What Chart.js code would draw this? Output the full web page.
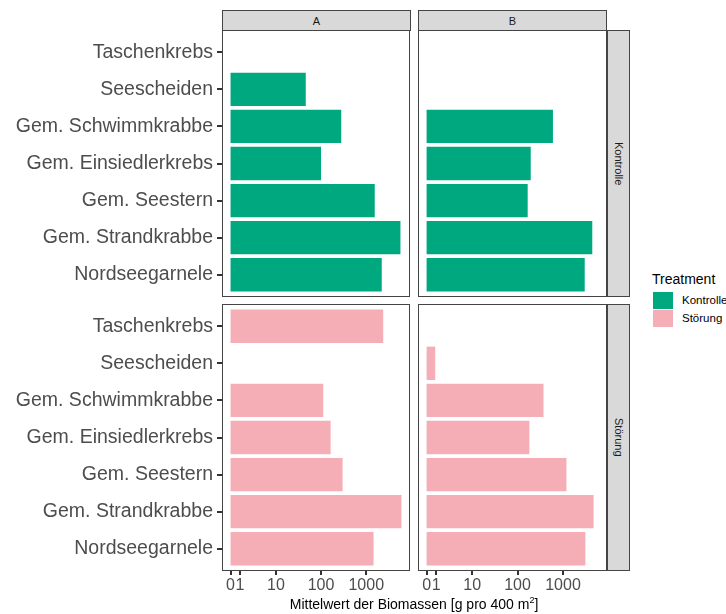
<!DOCTYPE html>
<html>
<head>
<meta charset="utf-8">
<script src="https://cdn.jsdelivr.net/npm/chart.js@4.4.1/dist/chart.umd.min.js"></script>
<style>
  body { margin:0; background:#fff; width:726px; height:614px; position:relative; overflow:hidden;
         font-family:'Liberation Sans', Arial, sans-serif; }
  .panel { position:absolute; }
  .strip { position:absolute; background:#d9d9d9; border:1px solid #444; box-sizing:border-box;
           color:#1a1a1a; font-size:11px; display:flex; align-items:center; justify-content:center; }
  .vs span { writing-mode:vertical-rl; }
  .abs { position:absolute; white-space:nowrap; }
</style>
</head>
<body>
<div class="strip" style="left:222px;top:10px;width:189px;height:21px;">A</div>
<div class="strip" style="left:418px;top:10px;width:189px;height:21px;">B</div>
<div class="strip vs" style="left:607px;top:30px;width:23px;height:267px;"><span>Kontrolle</span></div>
<div class="strip vs" style="left:607px;top:304px;width:23px;height:267px;"><span>Störung</span></div>

<div class="panel" style="left:0;top:30px;width:410px;height:267px;"><canvas id="cKA"></canvas></div>
<div class="panel" style="left:418px;top:30px;width:189px;height:267px;"><canvas id="cKB"></canvas></div>
<div class="panel" style="left:0;top:304px;width:410px;height:299px;"><canvas id="cSA"></canvas></div>
<div class="panel" style="left:418px;top:304px;width:189px;height:299px;"><canvas id="cSB"></canvas></div>

<div class="abs" style="left:652px;top:271px;font-size:14px;line-height:16px;color:#000;">Treatment</div>
<div class="abs" style="left:653px;top:292px;width:20px;height:17px;background:#00A880;"></div>
<div class="abs" style="left:653px;top:310px;width:20px;height:17px;background:#F6AEB6;"></div>
<div class="abs" style="left:682px;top:293px;font-size:11.5px;line-height:14px;color:#000;">Kontrolle</div>
<div class="abs" style="left:682px;top:311px;font-size:11.5px;line-height:14px;color:#000;">Störung</div>

<div class="abs" style="left:164px;width:500px;top:596px;font-size:14px;line-height:16px;text-align:center;color:#000;">Mittelwert der Biomassen [g pro 400 m<sup style="font-size:9px;line-height:0;">2</sup>]</div>

<script>
// ---- data (top-to-bottom order as displayed) ----
const categories = ['Taschenkrebs', 'Seescheiden', 'Gem. Schwimmkrabbe', 'Gem. Einsiedlerkrebs',
                    'Gem. Seestern', 'Gem. Strandkrabbe', 'Nordseegarnele'];
const kontrolleA = [null, 46, 280, 100, 1540, 5700, 2200];
const kontrolleB = [null, null, 600, 195, 167, 4400, 3000];
const stoerungA  = [2370, null, 112, 163, 300, 6000, 1450];
const stoerungB  = [null, 0.9, 372, 182, 1190, 4700, 3100];
const xTickValues = [0, 1, 10, 100, 1000];
const colKontrolle = '#00A880';
const colStoerung  = '#F6AEB6';

// ---- pseudo-log transform (like ggplot's pseudo_log_trans, sigma = 1) ----
const tf  = v => Math.asinh(v / 2);
const itf = t => 2 * Math.sinh(t);

class PseudoLogScale extends Chart.LinearScale {
  configure() {
    super.configure();
    this._tMin = tf(this.min);
    this._tMax = tf(this.max);
  }
  buildTicks() {
    return xTickValues.map(v => ({ value: v }));
  }
  getPixelForValue(value) {
    if (value === null || value === undefined || isNaN(value)) return NaN;
    return this.getPixelForDecimal((tf(value) - this._tMin) / (this._tMax - this._tMin));
  }
  getValueForPixel(pixel) {
    const d = this.getDecimalForPixel(pixel);
    return itf(this._tMin + d * (this._tMax - this._tMin));
  }
}
PseudoLogScale.id = 'pseudolog';
PseudoLogScale.defaults = {};
Chart.register(PseudoLogScale);

Chart.defaults.font.family = "'Liberation Sans', Arial, sans-serif";

// ggplot-like 5% expansion in transformed space
const allVals = [...kontrolleA, ...kontrolleB, ...stoerungA, ...stoerungB].filter(v => v !== null);
const tMax = tf(Math.max(...allVals));
const xMin = itf(-0.05 * tMax);
const xMax = itf(1.05 * tMax);

// panel border + axis tick marks (at the scales' own tick pixels)
const panelBorder = {
  id: 'panelBorder',
  afterDraw(chart) {
    const { ctx, chartArea: { left, top, right, bottom } } = chart;
    ctx.save();
    ctx.strokeStyle = '#333';
    ctx.lineWidth = 2;
    const xs = chart.scales.x, ys = chart.scales.y;
    if (ys.options.display) {
      ys.ticks.forEach((t, i) => {
        const p = Math.round(ys.getPixelForTick(i));
        ctx.beginPath(); ctx.moveTo(left - 5, p); ctx.lineTo(left + 1, p); ctx.stroke();
      });
    }
    if (xs.options.display) {
      xs.ticks.forEach((t, i) => {
        const p = Math.round(xs.getPixelForTick(i));
        ctx.beginPath(); ctx.moveTo(p, bottom - 1); ctx.lineTo(p, bottom + 4); ctx.stroke();
      });
    }
    ctx.lineWidth = 1;
    ctx.strokeStyle = '#444';
    ctx.strokeRect(left + 0.5, top + 0.5, right - left - 1, bottom - top - 1);
    ctx.restore();
  }
};

function makeChart(id, values, color, showY, showX) {
  return new Chart(document.getElementById(id), {
    type: 'bar',
    data: {
      datasets: [{
        data: values.map((v, i) => ({ x: v, y: i })),
        backgroundColor: color,
        borderWidth: 0,
        barPercentage: 0.9,
        categoryPercentage: 1.0
      }]
    },
    options: {
      indexAxis: 'y',
      responsive: true,
      maintainAspectRatio: false,
      animation: false,
      layout: { padding: 0 },
      plugins: { legend: { display: false }, tooltip: { enabled: false } },
      scales: {
        x: {
          type: 'pseudolog',
          min: xMin, max: xMax,
          display: showX,
          offset: false,
          border: { display: false },
          grid: { display: false, drawTicks: true, tickLength: 4 },
          ticks: { autoSkip: false, maxRotation: 0, padding: 1, color: '#4d4d4d',
                   font: { size: 16 }, callback: v => String(v) },
          afterFit: a => { a.paddingLeft = 0; a.paddingRight = 0; if (showX) a.height = 32; }
        },
        y: {
          type: 'linear',
          min: -0.6, max: categories.length - 0.4,
          reverse: true,
          display: showY,
          offset: false,
          border: { display: false },
          grid: { display: false, drawTicks: true, tickLength: 5 },
          afterBuildTicks: a => { a.ticks = categories.map((c, i) => ({ value: i })); },
          ticks: { autoSkip: false, padding: 4, color: '#4d4d4d', font: { size: 19.5 },
                   callback: v => categories[v] },
          afterFit: a => { a.paddingTop = 0; a.paddingBottom = 0; if (showY) a.width = 222; }
        }
      }
    },
    plugins: [panelBorder]
  });
}

makeChart('cKA', kontrolleA, colKontrolle, true, false);
makeChart('cKB', kontrolleB, colKontrolle, false, false);
makeChart('cSA', stoerungA, colStoerung, true, true);
makeChart('cSB', stoerungB, colStoerung, false, true);
</script>
</body>
</html>
